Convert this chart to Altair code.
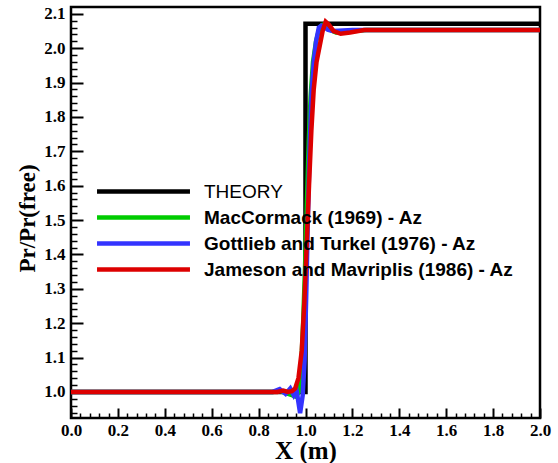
import altair as alt
import pandas as pd

# Series names and colours
series_names = [
    "THEORY",
    "MacCormack (1969) - Az",
    "Gottlieb and Turkel (1976) - Az",
    "Jameson and Mavriplis (1986) - Az",
]
series_colors = ["#000000", "#00cc00", "#3333ff", "#dd0000"]

# Exact shock solution
theory_x = [0.0, 1.0, 1.0, 2.0]
theory_p = [1.0, 1.0, 2.071, 2.071]

# MacCormack (1969)
mac_x = [0.0, 0.86, 0.89, 0.92, 0.945, 0.96, 0.972, 0.982, 0.99, 0.998, 1.006,
         1.014, 1.022, 1.032, 1.045, 1.058, 1.07, 1.082, 1.095, 1.11, 1.13,
         1.16, 1.2, 1.26, 2.0]
mac_p = [1.0, 1.0, 1.003, 0.996, 0.99, 0.986, 1.0, 1.08, 1.2, 1.36, 1.55,
         1.73, 1.86, 1.96, 2.02, 2.055, 2.068, 2.07, 2.062, 2.052, 2.046,
         2.046, 2.05, 2.053, 2.053]

# Gottlieb and Turkel (1976)
gt_x = [0.0, 0.86, 0.89, 0.915, 0.935, 0.95, 0.962, 0.977, 0.988, 0.996,
        1.003, 1.01, 1.018, 1.026, 1.035, 1.045, 1.057, 1.068, 1.08, 1.095,
        1.115, 1.14, 1.2, 2.0]
gt_p = [1.0, 1.0, 1.008, 0.994, 1.01, 0.99, 1.004, 0.938, 0.99, 1.09, 1.28,
        1.5, 1.72, 1.87, 1.96, 2.02, 2.06, 2.066, 2.062, 2.054, 2.05, 2.051,
        2.053, 2.053]

# Jameson and Mavriplis (1986)
jm_x = [0.0, 0.88, 0.905, 0.925, 0.942, 0.956, 0.97, 0.984, 0.995, 1.005,
        1.015, 1.025, 1.035, 1.047, 1.06, 1.073, 1.086, 1.1, 1.12, 1.15,
        1.19, 1.25, 2.0]
jm_p = [1.0, 1.0, 1.004, 1.0, 1.002, 1.01, 1.04, 1.12, 1.26, 1.43, 1.6,
        1.76, 1.88, 1.96, 2.005, 2.05, 2.077, 2.068, 2.05, 2.042, 2.046,
        2.053, 2.053]

# Axis tick positions
x_major = [0.0, 0.2, 0.4, 0.6, 0.8, 1.0, 1.2, 1.4, 1.6, 1.8, 2.0]
x_minor = [round(0.04 * i, 2) for i in range(51) if i % 5 != 0]
y_major = [1.0, 1.1, 1.2, 1.3, 1.4, 1.5, 1.6, 1.7, 1.8, 1.9, 2.0, 2.1]
y_minor = [round(0.92 + 0.02 * i, 2) for i in range(1, 60) if (i + 1) % 5 != 0]
y_minor = [v for v in y_minor if v < 2.12]

rows = []
for name, xs, ps in zip(series_names,
                        [theory_x, mac_x, gt_x, jm_x],
                        [theory_p, mac_p, gt_p, jm_p]):
    for i, (xv, pv) in enumerate(zip(xs, ps)):
        rows.append({"x": xv, "p": pv, "series": name, "idx": i})
df = pd.DataFrame(rows)

serif = "Liberation Serif"
sans = "Liberation Sans"

x_scale = alt.Scale(domain=[0, 2], nice=False, zero=False)
y_scale = alt.Scale(domain=[0.924, 2.12], nice=False, zero=False)

major_x_axis = alt.Axis(
    orient="bottom", values=x_major, format=".1f", domain=False, grid=False,
    tickSize=alt.ExprRef("-10"), tickWidth=2, tickColor="black",
    labelPadding=14, labelFont=serif, labelFontSize=17, labelFontWeight="bold",
    labelColor="black", labelFlush=False,
    title="X (m)", titleFont=serif, titleFontSize=25,
    titleFontWeight="bold", titleColor="black",
    titleY=40, titleBaseline="alphabetic",
)
major_y_axis = alt.Axis(
    orient="left", values=y_major, format=".1f", domain=False, grid=False,
    tickSize=alt.ExprRef("-12"), tickWidth=2, tickColor="black",
    labelPadding=18, labelFont=serif, labelFontSize=17, labelFontWeight="bold",
    labelColor="black", labelFlush=False,
    title="Pr/Pr(free)", titleFont=serif, titleFontSize=23,
    titleFontWeight="bold", titleColor="black",
    titleX=-44, titleY=211, titleBaseline="middle", titleAngle=270,
)
minor_x_axis = alt.Axis(
    orient="bottom", values=x_minor, labels=False, domain=False, grid=False,
    tickSize=alt.ExprRef("-5"), tickWidth=1.5, tickColor="black", title=None,
)
minor_y_axis = alt.Axis(
    orient="left", values=y_minor, labels=False, domain=False, grid=False,
    tickSize=alt.ExprRef("-6"), tickWidth=1.5, tickColor="black", title=None,
)

# Long horizontal swatch drawn as a path so the entry height stays compact
swatch = "M-8,0H8"

color = alt.Color(
    "series:N",
    scale=alt.Scale(domain=series_names, range=series_colors),
    legend=alt.Legend(
        title=None, orient="none", legendX=63, legendY=175,
        symbolType=swatch, symbolSize=135, symbolStrokeWidth=4.5,
        labelFont=sans, labelFontSize=19,
        labelFontWeight=alt.ExprRef("datum.value == 'THEORY' ? 'normal' : 'bold'"),
        labelColor="black", labelOffset=51, rowPadding=6, labelLimit=400,
    ),
)

base = alt.Chart(df)


def series_layer(name, x_axis, y_axis):
    return (
        base.transform_filter(alt.datum.series == name)
        .mark_line(strokeWidth=4.5, clip=True, strokeCap="butt", strokeJoin="miter")
        .encode(
            x=alt.X("x:Q", scale=x_scale, axis=x_axis),
            y=alt.Y("p:Q", scale=y_scale, axis=y_axis),
            color=color,
            order="idx:Q",
        )
    )


chart = (
    alt.layer(
        series_layer(series_names[0], major_x_axis, major_y_axis),
        series_layer(series_names[1], minor_x_axis, minor_y_axis),
        series_layer(series_names[2], None, None),
        series_layer(series_names[3], None, None),
    )
    .resolve_axis(x="independent", y="independent")
    .properties(
        width=469, height=411,
        autosize=alt.AutoSizeParams(type="none"),
        padding={"left": 71, "top": 7, "right": 18, "bottom": 45},
        background="white",
    )
    .configure_view(stroke="black", strokeWidth=2.5)
)

chart.save("out.html", embed_options={"renderer": "svg", "actions": False})
